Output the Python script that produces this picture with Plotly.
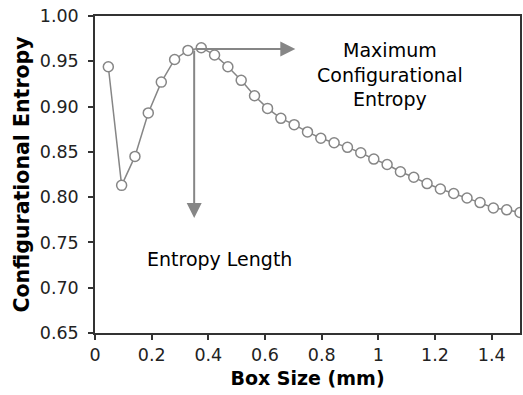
import plotly.graph_objects as go

box_size = [0.047, 0.094, 0.141, 0.188, 0.234, 0.281, 0.328, 0.375, 0.422, 0.469,
            0.516, 0.563, 0.609, 0.656, 0.703, 0.750, 0.797, 0.844, 0.891, 0.938,
            0.984, 1.031, 1.078, 1.125, 1.172, 1.219, 1.266, 1.313, 1.359, 1.406,
            1.453, 1.500]
entropy = [0.944, 0.813, 0.845, 0.893, 0.927, 0.952, 0.962, 0.965, 0.957, 0.944,
           0.929, 0.912, 0.898, 0.887, 0.880, 0.872, 0.865, 0.860, 0.855, 0.849,
           0.842, 0.836, 0.828, 0.822, 0.815, 0.809, 0.804, 0.799, 0.794, 0.788,
           0.786, 0.783]

x_ticks = [0, 0.2, 0.4, 0.6, 0.8, 1.0, 1.2, 1.4]
x_tick_labels = ["0", "0.2", "0.4", "0.6", "0.8", "1", "1.2", "1.4"]
y_ticks = [0.65, 0.70, 0.75, 0.80, 0.85, 0.90, 0.95, 1.00]
y_tick_labels = ["0.65", "0.70", "0.75", "0.80", "0.85", "0.90", "0.95", "1.00"]

max_x, max_y = 0.35, 0.9636
h_arrow_end_x = 0.707
v_arrow_end_y = 0.777

FONT = "DejaVu Sans"
GRAY = "#868686"
AXC = "#333333"

fig = go.Figure()
fig.add_trace(go.Scatter(
    x=box_size, y=entropy, mode="lines+markers",
    line=dict(color=GRAY, width=1.5),
    marker=dict(symbol="circle", size=10, color="white",
                line=dict(color=GRAY, width=1.5)),
    showlegend=False,
))

# arrows
fig.add_annotation(x=h_arrow_end_x, y=max_y, ax=max_x, ay=max_y,
                   xref="x", yref="y", axref="x", ayref="y",
                   text="", showarrow=True, arrowhead=2, arrowsize=1.5,
                   arrowwidth=2, arrowcolor=GRAY)
fig.add_annotation(x=max_x, y=v_arrow_end_y, ax=max_x, ay=max_y,
                   xref="x", yref="y", axref="x", ayref="y",
                   text="", showarrow=True, arrowhead=2, arrowsize=1.5,
                   arrowwidth=2, arrowcolor=GRAY)

fig.add_annotation(x=1.04, y=0.935, xref="x", yref="y",
                   text="Maximum<br>Configurational<br>Entropy",
                   showarrow=False, align="center",
                   font=dict(family=FONT, size=19, color="black"))
fig.add_annotation(x=0.439, y=0.732, xref="x", yref="y",
                   text="Entropy Length", showarrow=False,
                   font=dict(family=FONT, size=19, color="black"))

fig.update_xaxes(range=[0, 1.5], tickvals=x_ticks, ticktext=x_tick_labels,
                 showgrid=False, zeroline=False, showline=True, mirror=True,
                 linecolor=AXC, linewidth=1.5, ticks="outside", ticklen=5,
                 tickcolor=AXC, tickwidth=1.5,
                 tickfont=dict(family=FONT, size=17.5, color="#222"),
                 title=dict(text="<b>Box Size (mm)</b>", standoff=8,
                            font=dict(family=FONT, size=19, color="black")))
fig.update_yaxes(range=[0.65, 1.0], tickvals=y_ticks, ticktext=y_tick_labels,
                 showgrid=False, zeroline=False, showline=True, mirror=True,
                 linecolor=AXC, linewidth=1.5, ticks="outside", ticklen=5,
                 tickcolor=AXC, tickwidth=1.5, ticklabelstandoff=6,
                 tickfont=dict(family=FONT, size=17.5, color="#222"),
                 title=dict(text="<b>Configurational Entropy</b>", standoff=5,
                            font=dict(family=FONT, size=20.5, color="black")))

fig.update_layout(width=523, height=395,
                  margin=dict(l=95, r=1, t=16, b=62),
                  plot_bgcolor="white", paper_bgcolor="white")

fig.write_html("out.html")
